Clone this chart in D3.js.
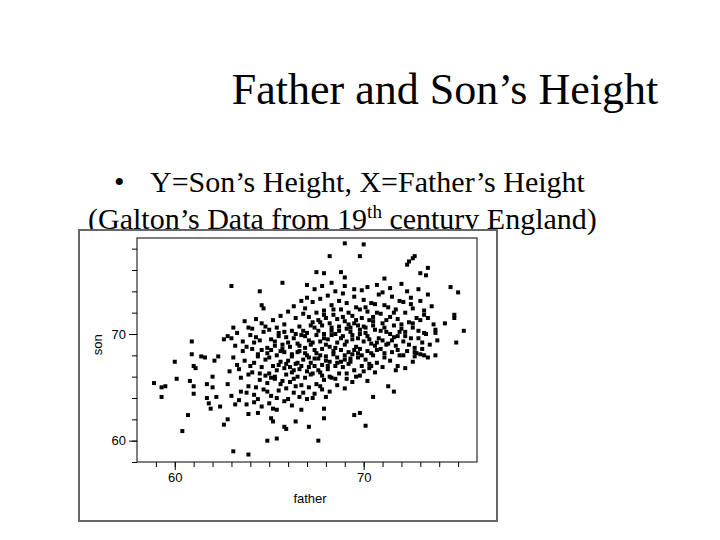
<!DOCTYPE html>
<html>
<head>
<meta charset="utf-8">
<script src="https://cdn.jsdelivr.net/npm/d3@7"></script>
<style>
  body { margin: 0; background: #fff; }
  .slide text { font-family: "Liberation Serif", "Times New Roman", serif; }
  .axis text { font-family: "Liberation Sans", Arial, sans-serif; font-size: 13px; }
</style>
</head>
<body>
<div id="vis"></div>
<script>
// tick labels
var xTicks = [60, 70];
var yTicks = [60, 70];

// father / son heights (inches)
var galton = [
  [58.9,65.4],[59.3,65.0],[59.5,65.1],[59.3,64.1],[60.0,67.4],[60.1,65.8],[60.4,60.9],[60.7,62.4],
  [60.8,65.6],[60.9,69.3],[60.9,68.1],[61.0,67.0],[61.1,66.8],[61.0,65.1],[61.0,64.4],[61.4,67.9],
  [61.6,67.8],[61.7,65.3],[61.7,64.0],[61.8,63.5],[61.9,63.0],[62.0,66.0],[62.0,65.0],[62.1,67.5],
  [62.2,64.1],[62.3,67.9],[62.4,63.2],[62.6,61.5],[62.8,62.0],[62.6,69.5],[62.8,69.8],[63.0,74.5],
  [63.1,70.6],[63.1,59.0],[63.2,63.4],[63.9,58.7],[63.9,62.5],[64.4,62.6],[64.5,74.0],[64.6,72.7],
  [64.9,60.0],[65.1,62.1],[65.2,61.8],[65.4,60.2],[65.7,74.8],[65.8,61.3],[65.9,61.1],[66.4,61.8],
  [66.7,62.9],[67.1,61.3],[67.5,75.8],[67.9,75.7],[67.6,60.0],[67.9,62.1],[67.9,63.0],[68.2,77.3],
  [68.8,75.8],[69.0,78.5],[69.0,75.3],[69.5,62.4],[69.8,62.6],[69.8,77.3],[70.0,78.4],[70.1,61.4],
  [70.5,64.1],[71.1,75.2],[71.3,65.1],[71.6,64.6],[71.7,66.6],[72.0,74.7],[72.3,76.5],[72.4,76.8],
  [72.6,77.1],[72.7,77.3],[73.0,75.7],[73.3,75.5],[73.4,76.2],[73.2,68.0],[73.2,70.1],[73.8,70.1],
  [73.8,70.4],[74.3,71.0],[74.6,74.4],[74.8,71.8],[74.8,71.5],[74.9,69.2],[75.0,73.9],[75.3,70.3],
  [72.7,67.9],[72.8,68.2],
  [63.0,64.2],[62.9,66.5],[63.1,67.8],[63.2,68.9],[62.8,65.3],[63.0,69.6],
  [63.4,63.8],[63.5,65.9],[63.3,67.1],[63.6,68.4],[63.4,66.7],[63.5,64.6],[63.3,70.1],
  [63.8,64.5],[63.9,66.2],[63.7,67.5],[63.8,68.8],[64.0,69.9],[63.9,65.1],[63.7,71.2],[63.8,63.4],
  [64.2,63.6],[64.3,65.0],[64.1,66.4],[64.2,67.3],[64.4,68.1],[64.2,69.2],[64.1,70.5],[64.3,71.4],[64.2,64.3],[64.4,67.9],
  [64.6,63.2],[64.7,64.8],[64.5,65.7],[64.6,66.9],[64.8,67.6],[64.6,68.5],[64.5,69.4],[64.7,70.2],[64.6,71.0],[64.8,66.1],[64.7,72.4],
  [65.0,63.5],[65.1,64.2],[64.9,65.4],[65.0,66.3],[65.2,67.0],[65.0,67.8],[64.9,68.7],[65.1,69.5],[65.0,70.4],[65.2,71.3],[65.1,65.9],[64.9,68.2],
  [65.4,62.9],[65.5,64.7],[65.3,65.8],[65.4,66.6],[65.6,67.4],[65.4,68.0],[65.3,68.9],[65.5,69.8],[65.4,70.6],[65.6,71.7],[65.5,67.1],[65.3,69.3],[65.4,64.0],
  [65.8,63.7],[65.9,64.9],[65.7,65.6],[65.8,66.8],[66.0,67.5],[65.8,68.3],[65.7,69.0],[65.9,69.7],[65.8,70.9],[66.0,72.1],[65.9,66.2],[65.7,68.6],[65.8,70.2],
  [66.2,63.3],[66.3,64.5],[66.1,65.5],[66.2,66.4],[66.4,67.2],[66.2,67.9],[66.1,68.8],[66.3,69.6],[66.2,70.3],[66.4,71.5],[66.3,72.6],[66.1,66.9],[66.2,68.1],[66.4,65.1],
  [66.6,64.1],[66.7,65.2],[66.5,66.0],[66.6,66.7],[66.8,67.6],[66.6,68.4],[66.5,69.1],[66.7,69.9],[66.6,70.7],[66.8,71.9],[66.7,73.1],[66.5,67.3],[66.6,68.9],
  [67.0,63.9],[67.1,65.0],[66.9,65.9],[67.0,66.5],[67.2,67.3],[67.0,68.0],[66.9,68.7],[67.1,69.4],[67.0,70.1],[67.2,70.8],[67.1,71.6],[66.9,72.4],[67.0,73.4],[67.2,66.2],[67.1,67.8],[66.9,69.8],
  [67.4,64.4],[67.5,65.3],[67.3,66.3],[67.4,67.0],[67.6,67.7],[67.4,68.5],[67.3,69.2],[67.5,69.9],[67.4,70.6],[67.6,71.3],[67.5,72.0],[67.3,73.0],[67.4,74.2],[67.6,66.6],[67.5,68.2],
  [67.8,64.8],[67.9,65.7],[67.7,66.4],[67.8,67.1],[68.0,67.9],[67.8,68.6],[67.7,69.3],[67.9,70.0],[67.8,70.8],[68.0,71.5],[67.9,72.2],[67.7,73.3],[67.8,74.5],[68.0,67.5],[67.9,69.6],[67.7,71.1],
  [68.2,64.6],[68.3,65.9],[68.1,66.7],[68.2,67.4],[68.4,68.1],[68.2,68.8],[68.1,69.5],[68.3,70.3],[68.2,71.0],[68.4,71.8],[68.3,72.7],[68.1,73.6],[68.2,66.0],[68.4,68.4],[68.3,70.6],
  [68.6,65.2],[68.7,66.3],[68.5,67.0],[68.6,67.8],[68.8,68.5],[68.6,69.2],[68.5,70.0],[68.7,70.7],[68.6,71.4],[68.8,72.3],[68.7,73.1],[68.5,74.0],[68.6,67.3],[68.8,69.6],
  [69.0,64.9],[69.1,65.8],[68.9,66.9],[69.0,67.6],[69.2,68.3],[69.0,69.0],[68.9,69.8],[69.1,70.5],[69.0,71.2],[69.2,72.0],[69.1,72.9],[68.9,73.8],[69.0,68.0],[69.2,70.9],
  [69.4,65.5],[69.5,66.6],[69.3,67.4],[69.4,68.1],[69.6,68.8],[69.4,69.5],[69.3,70.2],[69.5,71.0],[69.4,71.7],[69.6,72.5],[69.5,73.5],[69.3,67.7],[69.4,69.9],
  [69.8,66.1],[69.9,67.0],[69.7,67.8],[69.8,68.6],[70.0,69.3],[69.8,70.0],[69.7,70.8],[69.9,71.5],[69.8,72.3],[70.0,73.2],[69.9,74.1],[69.7,68.2],[69.8,70.4],
  [70.2,65.6],[70.3,66.8],[70.1,67.6],[70.2,68.4],[70.4,69.1],[70.2,69.8],[70.1,70.6],[70.3,71.3],[70.2,72.1],[70.4,72.9],[70.3,67.2],[70.1,70.1],
  [70.6,66.4],[70.7,67.3],[70.5,68.0],[70.6,68.9],[70.8,69.6],[70.6,70.4],[70.5,71.2],[70.7,72.0],[70.6,72.8],[70.8,73.7],[70.7,68.5],[70.5,71.6],
  [71.0,66.9],[71.1,67.8],[70.9,68.6],[71.0,69.4],[71.2,70.2],[71.0,71.0],[70.9,71.9],[71.1,72.7],[71.0,73.9],[71.2,69.0],[71.1,70.6],
  [71.4,67.5],[71.5,68.3],[71.3,69.1],[71.4,70.0],[71.6,70.8],[71.4,71.6],[71.3,72.5],[71.5,73.5],[71.4,74.3],[71.6,69.7],
  [71.8,67.0],[71.9,68.0],[71.7,68.9],[71.8,69.8],[72.0,70.5],[71.8,71.4],[71.7,72.3],[71.9,73.1],[71.8,68.5],[72.0,70.9],
  [72.2,66.8],[72.3,68.4],[72.1,69.3],[72.2,70.2],[72.4,71.1],[72.2,72.0],[72.1,73.0],[72.3,74.0],[72.2,69.8],
  [72.6,67.4],[72.7,68.7],[72.5,69.6],[72.6,70.6],[72.8,71.5],[72.6,72.4],[72.5,73.4],[72.7,68.3],[72.6,71.0],
  [73.0,68.1],[73.1,69.2],[72.9,70.3],[73.0,71.3],[73.2,72.2],[73.0,73.1],[72.9,74.2],[73.1,68.6],
  [73.4,67.8],[73.5,69.0],[73.3,70.0],[73.4,71.5],[73.6,72.6],[73.4,73.7],
  [73.8,68.0],[73.9,69.4],[73.7,70.9],
  // second pass over the dense core
  [64.0,67.0],[64.3,69.7],[64.5,66.3],[64.8,70.7],[65.1,68.5],[65.3,66.0],[65.5,70.1],[65.6,68.4],
  [65.9,67.2],[66.0,69.2],[66.3,66.6],[66.4,70.0],[66.5,68.3],[66.7,67.0],[66.8,70.3],[66.9,68.2],
  [67.1,66.9],[67.2,69.0],[67.3,71.1],[67.4,67.7],[67.6,70.3],[67.7,68.0],[67.8,66.1],[67.9,71.8],
  [68.0,69.0],[68.1,67.0],[68.3,69.9],[68.4,72.3],[68.5,68.7],[68.7,70.3],[68.8,67.4],[68.9,71.6],
  [69.1,69.3],[69.2,67.2],[69.3,70.6],[69.5,68.5],[69.6,71.3],[69.7,69.6],[69.9,68.0],[70.0,70.7],
  [70.1,72.5],[70.3,69.5],[70.4,68.2],[70.5,70.8],[70.7,69.2],[70.9,70.3],[71.1,68.2],[71.2,71.3],
  [71.5,69.4],[71.6,72.0],[71.9,70.2],[72.1,68.0],[72.4,69.0],[72.5,72.8],[72.9,69.6],[73.2,71.8],
  [63.6,69.3],[63.9,70.6],[64.1,68.6],[64.4,63.9],[64.9,64.6],[65.2,63.0],[65.6,65.3],[66.0,63.9],
  [66.3,65.8],[66.8,64.5],[67.3,64.0],[67.7,65.1],[68.0,64.1],[68.5,65.8],[69.1,66.3],[69.6,66.0],
  [70.0,66.5],[70.4,67.0],[69.0,74.5],[69.5,74.2],[70.2,74.4],[70.7,74.6],[68.3,74.8],[67.0,74.6]
];

var W = 720, H = 540;
var plotL = 137, plotR = 477, plotT = 238, plotB = 462;

var svg = d3.select('#vis').append('svg')
  .attr('width', W).attr('height', H)
  .attr('class', 'slide');

// slide texts
svg.append('text')
  .attr('x', 445).attr('y', 104)
  .attr('text-anchor', 'middle')
  .style('font-size', '44px')
  .text('Father and Son’s Height');

svg.append('text')
  .attr('x', 114).attr('y', 192)
  .style('font-size', '30px')
  .text('•');
svg.append('text')
  .attr('x', 150).attr('y', 192)
  .style('font-size', '30px')
  .text('Y=Son’s Height, X=Father’s Height');

var line2 = svg.append('text')
  .attr('x', 88).attr('y', 229)
  .style('font-size', '30px');
line2.append('tspan').text('(Galton’s Data from 19');
line2.append('tspan').attr('dy', -11).style('font-size', '19px').text('th');
line2.append('tspan').attr('dy', 11).text(' century England)');

// graph frame
svg.append('rect')
  .attr('x', 79).attr('y', 230)
  .attr('width', 418).attr('height', 291)
  .attr('fill', '#fff').attr('stroke', '#666').attr('stroke-width', 2);

var x = d3.scaleLinear().domain([58, 76]).range([plotL, plotR]);
var y = d3.scaleLinear().domain([58, 79]).range([plotB, plotT]);

svg.append('rect')
  .attr('x', plotL).attr('y', plotT)
  .attr('width', plotR - plotL).attr('height', plotB - plotT)
  .attr('fill', 'none').attr('stroke', '#000').attr('stroke-width', 1);

// minor ticks
var gx = svg.append('g').attr('class', 'axis').attr('transform', 'translate(0,' + plotB + ')');
gx.call(d3.axisBottom(x).tickValues(d3.range(59, 76, 1)).tickSize(5).tickFormat(''));
gx.append('g').call(d3.axisBottom(x).tickValues(xTicks).tickSize(8).tickFormat(d3.format('d')));
gx.selectAll('.domain').remove();
gx.selectAll('text').attr('fill', '#000').style('font-size', '13px');

var gy = svg.append('g').attr('class', 'axis').attr('transform', 'translate(' + plotL + ',0)');
gy.call(d3.axisLeft(y).tickValues(d3.range(58, 79, 2)).tickSize(5).tickFormat(''));
gy.append('g').call(d3.axisLeft(y).tickValues(yTicks).tickSize(8).tickFormat(d3.format('d')));
gy.selectAll('.domain').remove();
gy.selectAll('text').attr('fill', '#000').style('font-size', '13px');

svg.append('text').attr('class', 'axis')
  .attr('x', 310).attr('y', 503)
  .attr('text-anchor', 'middle')
  .style('font-family', 'Liberation Sans, Arial, sans-serif').style('font-size', '13px')
  .text('father');
svg.append('text')
  .attr('transform', 'translate(102,' + y(69) + ') rotate(-90)')
  .attr('text-anchor', 'middle')
  .style('font-family', 'Liberation Sans, Arial, sans-serif').style('font-size', '13px')
  .text('son');

// points
svg.append('g').selectAll('rect.pt')
  .data(galton)
  .enter()
  .append('rect')
  .attr('class', 'pt')
  .attr('x', function(d) { return x(d[0]) - 2; })
  .attr('y', function(d) { return y(d[1]) - 2; })
  .attr('width', 4).attr('height', 4)
  .attr('fill', '#000');
</script>
</body>
</html>
